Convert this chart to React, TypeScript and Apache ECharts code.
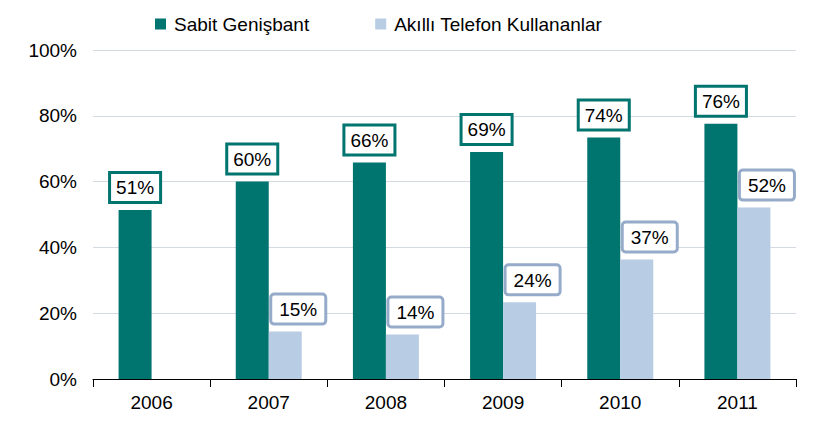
import React, { useEffect, useRef } from "react";
import * as echarts from "echarts";

const years = ["2006", "2007", "2008", "2009", "2010", "2011"];
const broadband = [51.4, 60.0, 65.8, 69.0, 73.4, 77.6];
const smartphone = [null, 14.4, 13.5, 23.3, 36.3, 52.1];
const broadbandLabels = ["51%", "60%", "66%", "69%", "74%", "76%"];
const smartphoneLabels = ["", "15%", "14%", "24%", "37%", "52%"];
const yTicks = [0, 20, 40, 60, 80, 100];

const FONT = "Liberation Sans, Arial, sans-serif";
const TEAL = "#00746F";
const LIGHT = "#B8CCE4";
const LIGHT_BORDER = "#95ABC9";

export default function App() {
  const ref = useRef<HTMLDivElement>(null);
  useEffect(() => {
    if (!ref.current) return;
    const chart = echarts.init(ref.current, null, { renderer: "svg" });
    chart.setOption({
      animation: false,
      textStyle: { fontFamily: FONT },
      legend: {
        left: 150,
        top: 9,
        itemWidth: 11,
        itemHeight: 11,
        itemGap: 66,
        icon: "rect",
        textStyle: { fontFamily: FONT, fontSize: 19, color: "#000", padding: [0, 0, 0, 3], lineHeight: 20 },
        data: ["Sabit Genişbant", "Akıllı Telefon Kullananlar"],
      },
      grid: { left: 93, right: 32, top: 50, bottom: 48, containLabel: false },
      xAxis: {
        type: "category",
        data: years,
        axisLine: { lineStyle: { color: "#000", width: 1 } },
        axisTick: { show: true, length: 8, lineStyle: { color: "#000" } },
        axisLabel: { fontFamily: FONT, fontSize: 19, color: "#000", margin: 14 },
      },
      yAxis: {
        type: "value",
        min: yTicks[0],
        max: yTicks[yTicks.length - 1],
        interval: 20,
        axisLine: { show: false },
        axisTick: { show: false },
        axisLabel: { fontFamily: FONT, fontSize: 19, color: "#000", margin: 16, formatter: "{value}%" },
        splitLine: { lineStyle: { color: "#D3DAE3", width: 1 } },
      },
      series: [
        {
          name: "Sabit Genişbant",
          type: "bar",
          data: broadband,
          barWidth: 33,
          barGap: "0%",
          itemStyle: { color: TEAL },
          label: {
            show: true,
            position: "top",
            distance: 9,
            formatter: (p: any) => broadbandLabels[p.dataIndex],
            fontFamily: FONT,
            fontSize: 19,
            color: "#000",
            backgroundColor: "#fff",
            borderColor: TEAL,
            borderWidth: 3,
            padding: [4, 5, 3, 5],
            lineHeight: 20,
          },
        },
        {
          name: "Akıllı Telefon Kullananlar",
          type: "bar",
          data: smartphone,
          barWidth: 33,
          barGap: "0%",
          itemStyle: { color: LIGHT },
          label: {
            show: true,
            position: "top",
            distance: 9,
            offset: [13, 0],
            formatter: (p: any) => smartphoneLabels[p.dataIndex],
            fontFamily: FONT,
            fontSize: 19,
            color: "#000",
            backgroundColor: "#fff",
            borderColor: LIGHT_BORDER,
            borderWidth: 3,
            borderRadius: 2,
            padding: [4, 7, 3, 7],
            lineHeight: 20,
          },
        },
      ],
    });
    return () => chart.dispose();
  }, []);
  return (
    <div
      ref={ref}
      style={{ position: "fixed", left: 0, top: 0, width: 828, height: 427, background: "#fff" }}
    />
  );
}
